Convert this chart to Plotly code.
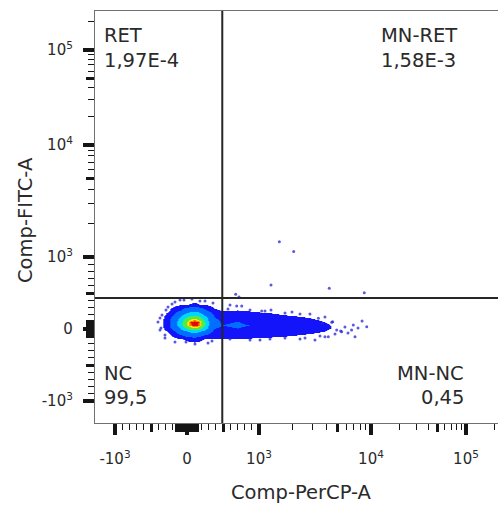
import numpy as np
import plotly.graph_objects as go

# ---------------------------------------------------------------------------
# Display scale (biexponential style) shared by both fluorescence axes
# ---------------------------------------------------------------------------
LIN_PER_1000 = 72.0   # display units spanning 0..1000 (linear part)
DEC_3_4 = 112.0       # display units for the 10^3..10^4 decade
DEC_ABOVE = 95.0      # display units per decade above 10^4


def biex(v):
    v = np.asarray(v, dtype=float)
    a = np.abs(v)
    safe = np.maximum(a, 1.0)
    out = np.where(
        a <= 1000, a * LIN_PER_1000 / 1000.0,
        np.where(a <= 1e4,
                 LIN_PER_1000 + DEC_3_4 * np.log10(safe / 1000.0),
                 LIN_PER_1000 + DEC_3_4 + DEC_ABOVE * np.log10(safe / 1e4)))
    return np.sign(v) * out


# ---------------------------------------------------------------------------
# Data
# ---------------------------------------------------------------------------
# Event density of the main population on a (PerCP, FITC) grid
perc_grid = [-460, -360, -260, -170, -90, -20, 40, 100, 160, 230, 300, 380,
             480, 700, 1000, 1600, 2500, 4000, 6200, 9500]
fitc_grid = [-320, -220, -140, -80, -30, 20, 60, 100, 140, 190, 260, 350, 450]
density = [
    [0] * 20,
    [0] * 20,
    [0, 0, 0, 0.05, 0.7, 1.2, 1.8, 2.0, 1.7, 1.0, 0.5, 0.7, 0.8, 0.8, 0.5, 0.2, 0, 0, 0, 0],
    [0, 0, 0.3, 2.0, 4.2, 6.3, 7.9, 8.4, 7.7, 5.2, 3.4, 2.2, 2.4, 2.6, 2.0, 1.4, 0.8, 0.35, 0.1, 0],
    [0, 0, 1.3, 4.6, 9.8, 13.9, 17.9, 19.8, 17.2, 12.5, 7.8, 3.6, 4.0, 4.4, 3.5, 2.6, 1.8, 0.95, 0.3, 0],
    [0, 0.13, 2.9, 8.4, 15.5, 29.1, 43.8, 49.5, 41.6, 24.3, 12.7, 5.1, 4.5, 5.0, 4.1, 3.1, 2.2, 1.15, 0.4, 0],
    [0, 0.33, 3.5, 10.3, 21.9, 44.8, 76.0, 88.0, 78.0, 34.1, 15.0, 6.8, 5.0, 5.5, 4.5, 3.4, 2.4, 1.15, 0.35, 0],
    [0, 0.34, 3.6, 10.5, 22.6, 46.8, 81.0, 90.0, 80.5, 35.5, 15.6, 7.0, 4.6, 5.1, 4.0, 2.9, 2.1, 0.95, 0.25, 0],
    [0, 0.22, 3.2, 9.2, 18.3, 35.5, 53.0, 61.8, 50.5, 27.8, 13.8, 5.9, 4.1, 4.6, 3.6, 2.3, 1.5, 0.5, 0.1, 0],
    [0, 0, 2.0, 6.1, 12.2, 19.6, 26.2, 28.5, 25.3, 15.7, 10.1, 4.1, 2.9, 3.1, 2.1, 1.1, 0.6, 0.1, 0, 0],
    [0, 0, 0.5, 2.6, 4.8, 7.8, 9.6, 10.2, 9.4, 6.8, 4.0, 1.4, 0.9, 1.0, 0.3, 0, 0, 0, 0, 0],
    [0, 0, 0, 0, 0.45, 0.84, 1.1, 1.3, 1.05, 0.7, 0.24, 0, 0, 0, 0, 0, 0, 0, 0, 0],
    [0] * 20,
]

# Sparse single events around and outside the dense population
perc_events = [1520, 2040, 1280, 4240, 8710, 676, 722,
               9160, 7200, 6950, 5360, 4160, 3880, 4550, 3390, 3670,
               597, 690, 760, 1057, 1280, 4940, 5470, 6710, 4460,
               1706, 2323, 875, 1254, 2323, 3160,
               -375, -361, -306, -292, -208, -97, 180, 292, -14,
               -403, -375, -347, -306, -264, -167, -42, 69, 250, 361,
               -167, 111, 347,
               569, 875, 1131, 1971, 2851, 3880,
               597, 1021, 1706, 2575, 3504, 4770,
               5850, 6230, 7660, 8320]
fitc_events = [1370, 1120, 611, 565, 504, 482, 445,
               32, -107, 56, -28, -107, -107, 101, 149, 79,
               333, 319, 319, 250, 264, -14, -38, -14, 93,
               222, 208, -153, -139, -139, -153,
               153, 14, -83, 264, 347, 403, 389, -194, -180,
               97, -14, 194, -125, 306, 375, 403, 417, 389, 361,
               -180, -208, -167,
               278, 264, 250, 236, 208, 167,
               -139, -153, -125, -125, -97, -69,
               28, -56, 14, 111]

# Quadrant gates
perc_gate = 490
fitc_gate = 430

# Quadrant names and frequencies
quad_names = ["RET", "MN-RET", "NC", "MN-NC"]
quad_freqs = ["1,97E-4", "1,58E-3", "99,5", "0,45"]

# Axis ticks
major_vals = [-1000, 0, 1000, 10000, 100000]
major_text = ["-10<sup>3</sup>", "0", "10<sup>3</sup>", "10<sup>4</sup>", "10<sup>5</sup>"]
mid_vals = [-500, 500, 5000, 50000]
minor_vals = ([-900, -800, -700, -600, -400, -300, -200,
               200, 300, 400, 600, 700, 800, 900]
              + [2000, 3000, 4000, 6000, 7000, 8000, 9000]
              + [20000, 30000, 40000, 60000, 70000, 80000, 90000, 200000])
x_zero_block = [v for v in range(-150, 151, 10) if v != 0]
y_zero_block = [v for v in range(-110, 111, 10) if v != 0]

# ---------------------------------------------------------------------------
# Figure geometry and style
# ---------------------------------------------------------------------------
W, H = 498, 505
ML, MR, MT, MB = 95, 0, 11, 82
X_RANGE = [-92, 311]
Y_RANGE = [-94, 318]
PW, PH = W - ML - MR, H - MT - MB

FONT = "DejaVu Sans"
TEXT_COL = "#2a2a2a"
TICK_COL = "#151515"


def px_to_paper_x(px):
    return (px - ML) / PW


def px_to_paper_y(py):
    return (H - MB - py) / PH


levels = [1, 5, 15, 30, 55, 68, 80]
colors = ["rgba(255,255,255,0)", "rgb(20,20,250)", "rgb(0,110,255)",
          "rgb(0,215,255)", "rgb(80,235,70)", "rgb(255,235,0)",
          "rgb(255,130,0)", "rgb(225,10,10)"]
ZMAX = 92.0
colorscale = [[0.0, colors[0]]]
for i, lv in enumerate(levels):
    f = lv / ZMAX
    colorscale.append([f, colors[i]])
    colorscale.append([f, colors[i + 1]])
colorscale.append([1.0, colors[-1]])

fig = go.Figure()

fig.add_trace(go.Heatmap(
    x=biex(perc_grid), y=biex(fitc_grid), z=density,
    zmin=0, zmax=ZMAX, zsmooth="best", colorscale=colorscale,
    showscale=False, hoverinfo="skip",
))

fig.add_trace(go.Scatter(
    x=biex(perc_events), y=biex(fitc_events), mode="markers",
    marker=dict(size=3, color="rgb(35,35,215)", opacity=0.75, line=dict(width=0)),
    showlegend=False, hoverinfo="skip",
))

# carrier for the overlay tick axes
fig.add_trace(go.Scatter(x=[None], y=[None], xaxis="x2", yaxis="y2",
                         mode="markers", showlegend=False, hoverinfo="skip"))

# gate lines
gx = float(biex(perc_gate))
gy = float(biex(fitc_gate))
fig.add_shape(type="line", xref="x", yref="paper", x0=gx, x1=gx, y0=0, y1=1,
              line=dict(color="#262626", width=2), layer="above")
fig.add_shape(type="line", xref="paper", yref="y", x0=0, x1=1, y0=gy, y1=gy,
              line=dict(color="#262626", width=2), layer="above")

common_axis = dict(showgrid=False, zeroline=False)

fig.update_layout(
    width=W, height=H,
    margin=dict(l=ML, r=MR, t=MT, b=MB, pad=0),
    paper_bgcolor="white", plot_bgcolor="white",
    showlegend=False,
    font=dict(family=FONT, color=TEXT_COL),
    xaxis=dict(
        range=X_RANGE, tickmode="array",
        tickvals=biex(major_vals).tolist(), ticktext=major_text,
        ticks="outside", ticklen=11, tickwidth=3.5, tickcolor=TICK_COL,
        showline=True, linecolor="#707070", linewidth=1.2, mirror=True,
        tickfont=dict(family=FONT, size=15, color=TEXT_COL),
        ticklabelstandoff=11,
        minor=dict(tickmode="array", tickvals=biex(minor_vals).tolist(),
                   ticks="outside", ticklen=6, tickwidth=1.3, tickcolor=TICK_COL),
        **common_axis,
    ),
    yaxis=dict(
        range=Y_RANGE, tickmode="array",
        tickvals=biex(major_vals).tolist(), ticktext=major_text,
        ticks="outside", ticklen=11, tickwidth=3.5, tickcolor=TICK_COL,
        showline=True, linecolor="#707070", linewidth=1.2, mirror=False,
        tickfont=dict(family=FONT, size=15, color=TEXT_COL),
        ticklabelstandoff=7,
        minor=dict(tickmode="array", tickvals=biex(minor_vals).tolist(),
                   ticks="outside", ticklen=6, tickwidth=1.3, tickcolor=TICK_COL),
        **common_axis,
    ),
    xaxis2=dict(
        overlaying="x", anchor="y", side="bottom", range=X_RANGE,
        tickmode="array", tickvals=biex(mid_vals + x_zero_block).tolist(),
        ticks="outside", ticklen=8, tickwidth=3, tickcolor=TICK_COL,
        showticklabels=False, showline=False, **common_axis,
    ),
    yaxis2=dict(
        overlaying="y", anchor="x", side="left", range=Y_RANGE,
        tickmode="array", tickvals=biex(mid_vals + y_zero_block).tolist(),
        ticks="outside", ticklen=8, tickwidth=3, tickcolor=TICK_COL,
        showticklabels=False, showline=False, **common_axis,
    ),
)

# axis titles
fig.add_annotation(text="Comp-PerCP-A", xref="paper", yref="paper",
                   x=px_to_paper_x(301), y=px_to_paper_y(492),
                   xanchor="center", yanchor="middle", showarrow=False,
                   font=dict(family=FONT, size=19.5, color=TEXT_COL))
fig.add_annotation(text="Comp-FITC-A", xref="paper", yref="paper",
                   x=px_to_paper_x(25), y=px_to_paper_y(220), textangle=-90,
                   xanchor="center", yanchor="middle", showarrow=False,
                   font=dict(family=FONT, size=19.5, color=TEXT_COL))

# quadrant labels: (anchor px, anchor side, name y px, frequency y px)
quad_pos = [
    (102, "left", 36, 61),
    (379, "left", 36, 61),
    (102, "left", 373, 397),
    (466, "right", 373, 397),
]
for name, freq, (qx, anchor, ny, fy) in zip(quad_names, quad_freqs, quad_pos):
    for txt, yy in ((name, ny), (freq, fy)):
        fig.add_annotation(text=txt, xref="paper", yref="paper",
                           x=px_to_paper_x(qx), y=px_to_paper_y(yy),
                           xanchor=anchor, yanchor="middle", showarrow=False,
                           font=dict(family=FONT, size=19.5, color=TEXT_COL))

fig.write_html("out.html")
